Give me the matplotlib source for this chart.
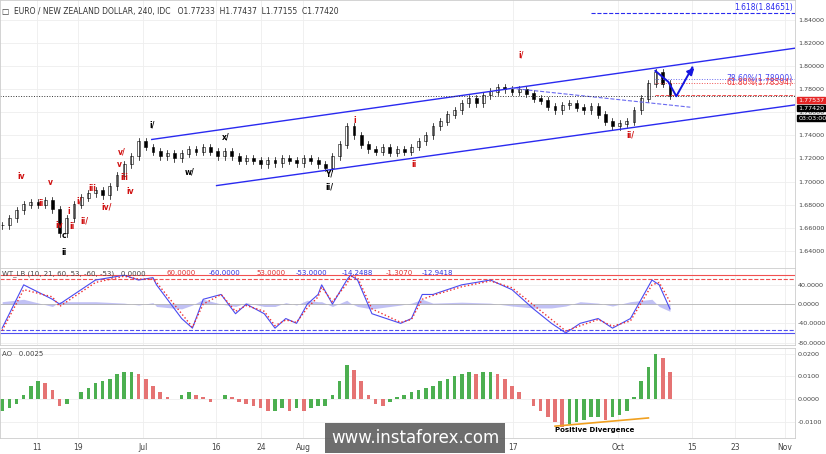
import matplotlib
matplotlib.use("Agg")
import matplotlib.pyplot as plt
import numpy as np
from matplotlib.patches import Rectangle

closes = [1.662,1.668,1.675,1.680,1.682,1.680,1.684,1.676,1.655,1.668,1.680,1.686,1.690,1.692,1.688,1.696,
          1.705,1.715,1.722,1.735,1.730,1.726,1.722,1.724,1.720,1.724,1.728,1.726,1.730,1.726,1.722,1.726,
          1.722,1.718,1.720,1.718,1.715,1.718,1.716,1.720,1.718,1.716,1.720,1.718,1.715,1.712,1.722,1.732,
          1.748,1.740,1.732,1.728,1.726,1.730,1.725,1.728,1.726,1.730,1.735,1.740,1.748,1.752,1.758,1.762,
          1.768,1.772,1.768,1.775,1.778,1.782,1.780,1.778,1.780,1.776,1.772,1.770,1.765,1.762,1.766,1.768,
          1.764,1.762,1.765,1.758,1.752,1.748,1.750,1.752,1.762,1.772,1.785,1.795,1.785,1.7742]
wt1_x = [0,3,7,8,10,13,17,19,21,21.5,25,26.5,28,30.5,32.5,34,36.5,38,39.5,41,42.5,44,44.5,46,48,48.5,49.5,51.5,55.5,57,58.5,60,64,68,71,74,76.5,78.5,80.5,83,85,87.5,90.5,91.5,93]
wt1   = [-50,40,10,0,20,50,60,50,55,40,-30,-50,10,20,-20,0,-20,-50,-30,-40,0,20,40,0,50,60,50,-20,-40,-30,20,20,40,50,30,-10,-40,-60,-40,-30,-50,-30,50,40,-10]
wt2   = [-55,30,15,-5,15,45,58,52,52,45,-20,-48,0,20,-15,-3,-15,-45,-33,-38,-8,15,35,5,42,58,55,-10,-38,-32,10,18,36,48,34,-2,-32,-56,-45,-32,-46,-35,40,45,5]
ao_vals = [-0.005,-0.004,-0.002,0.002,0.006,0.008,0.007,0.004,-0.003,-0.002,0.000,0.003,0.005,0.007,0.008,0.009,
           0.011,0.012,0.012,0.011,0.009,0.006,0.003,0.001,0.000,0.002,0.003,0.002,0.001,-0.001,0.000,0.002,
           0.001,-0.001,-0.002,-0.003,-0.004,-0.005,-0.005,-0.004,-0.005,-0.004,-0.005,-0.004,-0.003,-0.003,0.002,0.008,
           0.015,0.013,0.008,0.002,-0.002,-0.003,-0.001,0.001,0.002,0.003,0.004,0.005,0.006,0.008,0.009,0.010,
           0.011,0.012,0.011,0.012,0.012,0.011,0.009,0.006,0.003,0.000,-0.003,-0.005,-0.008,-0.010,-0.012,-0.011,
           -0.010,-0.009,-0.008,-0.008,-0.009,-0.008,-0.007,-0.005,0.001,0.008,0.014,0.020,0.018,0.012]
tick_px = [35,76,141,214,260,302,512,618,692,735,785]
tick_labels = ["11","19","Jul","16","24","Aug","17","Oct","15","23","Nov"]
price_ticks = [1.64,1.66,1.68,1.70,1.72,1.74,1.76,1.78,1.80,1.82,1.84]
PX = 7.2  # pixels per trading day

fig = plt.figure(figsize=(8.26,4.54), dpi=100)
W, H = 826, 454
def ax_at(top, bot):
    return fig.add_axes([0, 1-bot/H, 795/W, (bot-top)/H])
ax = ax_at(0, 268); ax2 = ax_at(268, 345); ax3 = ax_at(348, 438)
xmax = 795/PX
ticks_d = [p/PX for p in tick_px]
for a in (ax, ax2, ax3):
    a.set_xlim(-0.3, xmax)
    a.set_xticks(ticks_d)
    a.grid(True, color="#eeeeee", lw=0.6)
    a.yaxis.tick_right()
    a.tick_params(axis="y", labelsize=4.6, colors="#444444", length=0, pad=2)
    a.tick_params(axis="x", length=0)
    for s in a.spines.values(): s.set_color("#cccccc"); s.set_linewidth(0.6)
    a.set_xticklabels([])
    a.set_axisbelow(True)
ax3.set_xticklabels(tick_labels, fontsize=5.5, color="#444444")

# candles
opens = [closes[0]] + closes[:-1]
for i,(o,c) in enumerate(zip(opens, closes)):
    hi = max(o,c)+0.003; lo = min(o,c)-0.003
    ax.plot([i,i],[lo,hi], color="black", lw=0.5)
    ax.add_patch(Rectangle((i-0.2, min(o,c)), 0.4, abs(c-o)+0.0004,
                 facecolor="white" if c>=o else "black", edgecolor="black", lw=0.4))
ax.set_ylim(1.625, 1.8575)
ax.set_yticks(price_ticks)
ax.set_yticklabels([f"{t:.5f}" for t in price_ticks])
# channel
ax.plot([150/PX, xmax], [1.7365, 1.8157], color="#2a2af0", lw=1)
ax.plot([215/PX, xmax], [1.6965, 1.7665], color="#2a2af0", lw=1)
ax.plot([510/PX, 690/PX], [1.7810, 1.7645], color="#6a6af0", lw=0.8, ls="--")
ax.axhline(1.7742, color="#333333", lw=0.7, ls=":")
ax.plot([655/PX, xmax], [1.7890]*2, color="#6a6af0", lw=0.7, ls=":")
ax.plot([655/PX, xmax], [1.7859]*2, color="#f05050", lw=0.7, ls=":")
ax.plot([655/PX, xmax], [1.7754]*2, color="#f05050", lw=0.7, ls="--")
ax.plot([590/PX, xmax], [1.8465]*2, color="#2a2af0", lw=0.8, ls="--")
ax.text(793/PX, 1.8475, "1.618(1.84651)", color="#2a2af0", fontsize=5.5, ha="right", va="bottom")
ax.text(793/PX, 1.7897, "78.60%(1.78900)", color="#4a4af0", fontsize=5.5, ha="right", va="center")
ax.text(793/PX, 1.7858, "61.80%(1.78594)", color="#f04040", fontsize=5.5, ha="right", va="center")
ax.plot([655/PX, 668/PX, 676/PX, 692/PX], [1.7960, 1.7865, 1.7740, 1.7990], color="#1515e0", lw=1.4)
ax.annotate("", xy=(696/PX, 1.8005), xytext=(688/PX, 1.7930),
            arrowprops=dict(arrowstyle="-|>", color="#1515e0", lw=1.4))
for yfrac, txt, fc in [(1-100/268, "1.77537", "#e52525"), (1-108/268, "1.77420", "black"), (1-118/268, "03:03:00", "black")]:
    ax.text(1.004, yfrac, txt, transform=ax.transAxes, fontsize=4.6, color="white",
            va="center", ha="left", bbox=dict(boxstyle="square,pad=0.12", fc=fc, ec=fc), clip_on=False)
labels = [(62,243,"c","black"),(62,260,"ii","black"),(57,232,"iv","red"),(70,233,"ii","red"),(67,218,"i","red"),
          (77,207,"i/","red"),(82,228,"ii/","red"),(90,195,"iii","red"),(105,213,"iv/","red"),(118,170,"v","red"),
          (120,157,"v/","red"),(128,198,"iv","red"),(122,183,"iii","red"),(150,130,"i/","black"),(224,142,"x/","black"),
          (188,178,"w/","black"),(328,180,"Y/","black"),(328,193,"ii/","black"),(353,125,"i","red"),(413,170,"ii","red"),
          (520,58,"i/","red"),(630,140,"ii/","red"),(19,182,"iv","red"),(39,210,"ii","red"),(48,188,"v","red")]
for px, py, t, c in labels:
    ax.text(px/PX, 1.84-(py-23)/23.5*0.02, t, color="#d01010" if c=="red" else "black", fontsize=5.5,
            ha="center", va="center", fontweight="bold")
ax.text(0.003, 0.975, "\u25a1  EURO / NEW ZEALAND DOLLAR, 240, IDC   O1.77233  H1.77437  L1.77155  C1.77420",
        transform=ax.transAxes, fontsize=5.5, color="#333333", va="top")

# WT panel
ax2.set_ylim(-85, 75)
ax2.set_yticks([40,0,-40,-80]); ax2.set_yticklabels(["40.0000","0.0000","-40.0000","-80.0000"])
for lv, col in [(60,"#f05050"),(53,"#f05050"),(-60,"#5050f0"),(-53,"#5050f0")]:
    ax2.axhline(lv, color=col, lw=0.8, ls="-" if abs(lv)==60 else "--")
ax2.axhline(0, color="#aaaaaa", lw=0.5)
hist = np.array(wt1)-np.array(wt2)
ax2.fill_between(wt1_x, 0, hist, color="#9999ee", alpha=0.6, lw=0)
ax2.plot(wt1_x, wt1, color="#4a4af0", lw=0.8)
ax2.plot(wt1_x, wt2, color="#f03030", lw=1, ls=":")
ax2.text(0.003, 0.97, "WT_LB (10, 21, 60, 53, -60, -53)   0.0000", transform=ax2.transAxes, fontsize=5, color="#444444", va="top")
for t, col, xx in [("60.0000","#e03030",0.21),("-60.0000","#3030e0",0.262),("53.0000","#e03030",0.322),
                   ("-53.0000","#3030e0",0.372),("-14.2488","#3030e0",0.43),("-1.3070","#e03030",0.485),("-12.9418","#3030e0",0.53)]:
    ax2.text(xx, 0.97, t, transform=ax2.transAxes, fontsize=5, color=col, va="top")

# AO panel
ao = np.array(ao_vals)
cols = ["#4caf50" if i==0 or ao[i]>=ao[i-1] else "#e57373" for i in range(len(ao))]
ax3.bar(np.arange(len(ao)), ao, width=0.5, color=cols)
ax3.set_ylim(-0.017, 0.0225)
ax3.set_yticks([0.02,0.01,0.0,-0.01]); ax3.set_yticklabels(["0.0200","0.0100","0.0000","-0.0100"])
ax3.text(0.003, 0.97, "AO   0.0025", transform=ax3.transAxes, fontsize=5, color="#444444", va="top")
ax3.plot([77, 90], [-0.0118, -0.0082], color="#f0a020", lw=1.2)
ax3.text(82.5, -0.0145, "Positive Divergence", fontsize=5, fontweight="bold", ha="center")
fig.text(415/W, 1-438/H, "www.instaforex.com", fontsize=12, color="white", ha="center", va="center",
         bbox=dict(boxstyle="square,pad=0.35", fc="#555555", ec="none", alpha=0.85))
fig.savefig("out.png", dpi=100)
